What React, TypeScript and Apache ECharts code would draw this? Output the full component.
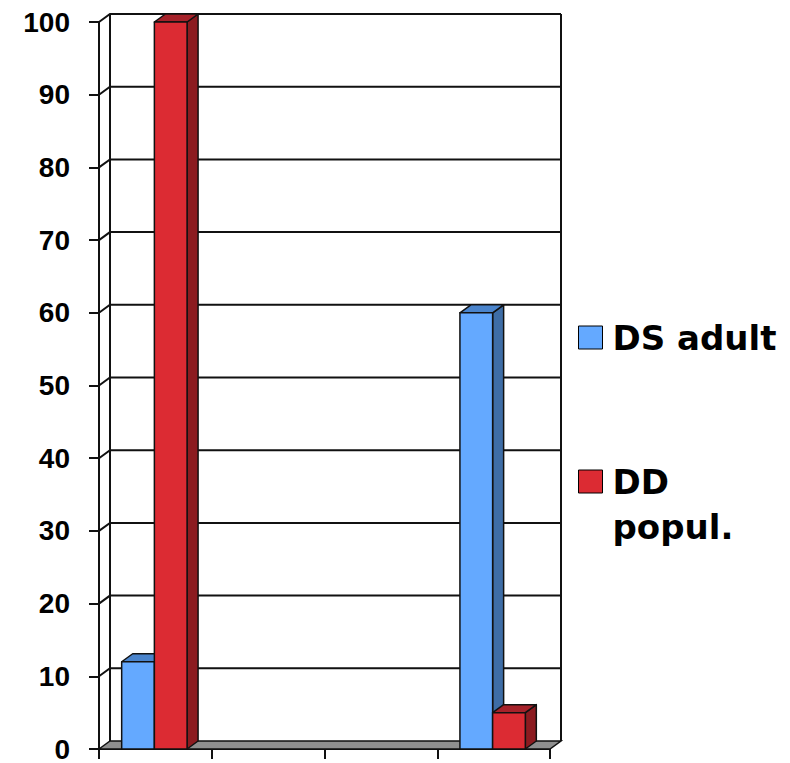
import React, { useEffect, useRef } from 'react';
import * as echarts from 'echarts';

const CATEGORIES = ['1', '2', '3', '4'];
const DS_ADULT: (number | null)[] = [12, null, null, 60];
const DD_POPUL: (number | null)[] = [100, null, null, 5];
const Y_TICKS = [0, 10, 20, 30, 40, 50, 60, 70, 80, 90, 100];
const SERIES_NAMES = ['DS adult', 'DD popul.'];

const DX = 11;
const DY = -8;

const BLUE = { front: '#64a9ff', top: '#4a84cc', side: '#3e6da6' };
const RED = { front: '#dc2b33', top: '#a6222a', side: '#8c1b20' };

export default function App() {
  const ref = useRef<HTMLDivElement>(null);

  useEffect(() => {
    const chart = echarts.init(ref.current!, null, { renderer: 'svg' });

    const wallRender = (params: any, api: any) => {
      const v = api.value(1);
      const bw = api.size([1, 0])[0];
      const p = api.coord([0, v]);
      const xL = p[0] - bw / 2;
      const xR = api.coord([CATEGORIES.length - 1, v])[0] + bw / 2;
      const y = p[1];
      const ls = { stroke: '#111', lineWidth: 2, fill: null };
      const children: any[] = [];
      if (v === Y_TICKS[0]) {
        const yTop = api.coord([0, Y_TICKS[Y_TICKS.length - 1]])[1];
        children.push({
          type: 'polygon',
          shape: { points: [[xL, y], [xL + DX, y + DY], [xR + DX, y + DY], [xR, y]] },
          style: { fill: '#8f8f8f', stroke: '#111', lineWidth: 1.5 },
        });
        children.push({
          type: 'line',
          shape: { x1: xL + DX, y1: y + DY, x2: xL + DX, y2: yTop + DY },
          style: ls,
        });
        children.push({
          type: 'line',
          shape: { x1: xR + DX, y1: y + DY, x2: xR + DX, y2: yTop + DY },
          style: ls,
        });
      } else {
        children.push({
          type: 'polyline',
          shape: { points: [[xL, y], [xL + DX, y + DY], [xR + DX, y + DY]] },
          style: ls,
        });
      }
      return { type: 'group', children };
    };

    const barRender = (idx: number, col: any) => (params: any, api: any) => {
      const i = api.value(0);
      const v = api.value(1);
      if (v == null || isNaN(v)) return null;
      const bw = api.size([1, 0])[0];
      const c = api.coord([i, v]);
      const b = api.coord([i, 0]);
      const w = bw * 0.29;
      const x = c[0] - 1 + (idx === 0 ? -w : 0);
      const yT = c[1];
      const yB = b[1];
      const st = { stroke: '#111', lineWidth: 1.5, lineJoin: 'round' };
      return {
        type: 'group',
        children: [
          {
            type: 'polygon',
            shape: { points: [[x + w, yT], [x + w + DX, yT + DY], [x + w + DX, yB + DY], [x + w, yB]] },
            style: { ...st, fill: col.side },
          },
          {
            type: 'polygon',
            shape: { points: [[x, yT], [x + DX, yT + DY], [x + w + DX, yT + DY], [x + w, yT]] },
            style: { ...st, fill: col.top },
          },
          {
            type: 'rect',
            shape: { x, y: yT, width: w, height: yB - yT },
            style: { ...st, fill: col.front },
          },
        ],
      };
    };

    const toData = (arr: (number | null)[]) =>
      arr.map((v, i) => [i, v]).filter((d) => d[1] != null);

    const legendText = {
      fontFamily: 'DejaVu Sans',
      fontWeight: 'bold',
      fontSize: 34,
      lineHeight: 45,
      color: '#000',
      padding: [0, 0, 0, 5],
    };

    chart.setOption({
      animation: false,
      backgroundColor: '#fff',
      grid: { left: 99, top: 22, width: 451, height: 731 },
      xAxis: {
        type: 'category',
        data: CATEGORIES,
        boundaryGap: true,
        axisLine: { show: true, lineStyle: { color: '#111', width: 2 } },
        axisTick: { show: true, length: 10, interval: 0, lineStyle: { color: '#111', width: 2 } },
        axisLabel: { show: false },
        splitLine: { show: false },
      },
      yAxis: {
        type: 'value',
        min: 0,
        max: 100,
        interval: 10,
        axisLine: { show: true, lineStyle: { color: '#111', width: 2 } },
        axisTick: { show: true, length: 10, lineStyle: { color: '#111', width: 2 } },
        axisLabel: {
          margin: 29,
          fontFamily: 'Liberation Sans',
          fontWeight: 'bold',
          fontSize: 28,
          color: '#000',
        },
        splitLine: { show: false },
      },
      legend: [
        {
          data: [SERIES_NAMES[0]],
          orient: 'vertical',
          left: 578,
          top: 315,
          padding: 0,
          itemWidth: 24,
          itemHeight: 23,
          icon: 'rect',
          selectedMode: false,
          itemStyle: { borderColor: '#000', borderWidth: 1 },
          textStyle: legendText,
        },
        {
          data: [SERIES_NAMES[1]],
          orient: 'vertical',
          left: 578,
          top: 414,
          padding: 0,
          itemWidth: 24,
          itemHeight: 23,
          icon: 'rect',
          selectedMode: false,
          formatter: (n: string) => '\n' + n.replace(' ', '\n'),
          itemStyle: { borderColor: '#000', borderWidth: 1 },
          textStyle: legendText,
        },
      ],
      series: [
        {
          type: 'custom',
          name: 'wall',
          z: 1,
          silent: true,
          renderItem: wallRender,
          data: Y_TICKS.map((v) => [0, v]),
        },
        {
          type: 'custom',
          name: SERIES_NAMES[0],
          z: 2,
          itemStyle: { color: BLUE.front },
          renderItem: barRender(0, BLUE),
          data: toData(DS_ADULT),
        },
        {
          type: 'custom',
          name: SERIES_NAMES[1],
          z: 3,
          itemStyle: { color: RED.front },
          renderItem: barRender(1, RED),
          data: toData(DD_POPUL),
        },
      ],
    });

    return () => chart.dispose();
  }, []);

  return (
    <div
      ref={ref}
      style={{ position: 'fixed', left: 0, top: 0, width: 790, height: 763, background: '#fff' }}
    />
  );
}
